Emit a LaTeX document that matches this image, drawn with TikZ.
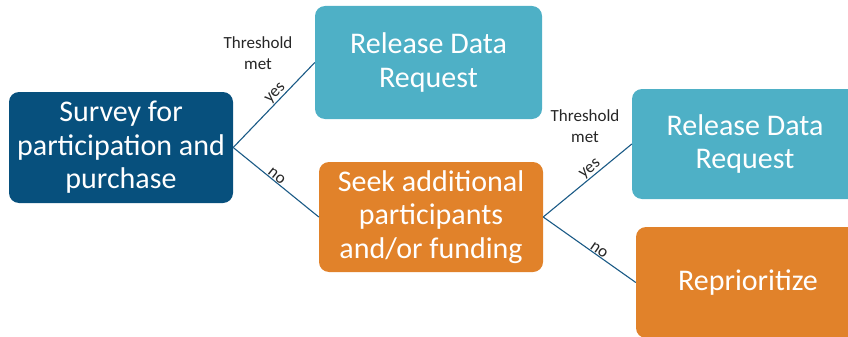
\documentclass[tikz,border=0pt]{standalone}
\usepackage{fontspec}
\setmainfont{Carlito}
\definecolor{navy}{HTML}{07507D}
\definecolor{teal}{HTML}{4EB0C6}
\definecolor{orng}{HTML}{E1822A}
\definecolor{linec}{HTML}{1A5A86}
\definecolor{txt}{HTML}{262626}
\tikzset{
  box/.style={rectangle, rounded corners=10pt, text=white, align=center,
    font=\fontsize{30}{33.5}\selectfont, inner sep=0pt},
  conn/.style={draw=linec, line width=1.1pt},
  lbl/.style={font=\fontsize{17}{21.5}\selectfont, text=txt, inner sep=0.5pt},
}
\begin{document}
\begin{tikzpicture}[x=1pt, y=-1pt]
\useasboundingbox (0,0) rectangle (848,337);
\begin{scope}
\clip (0,0) rectangle (848,337);
\node[box, fill=navy, minimum width=224pt, minimum height=111pt] (b1) at (121,147.5) {Survey for\\participation and\\purchase};
\node[box, fill=teal, minimum width=227pt, minimum height=113pt] (b2) at (428.5,62.5) {Release Data\\Request};
\node[box, fill=orng, minimum width=224pt, minimum height=110pt] (b3) at (431,217) {Seek additional\\participants\\and/or funding};
\node[box, fill=teal, minimum width=226pt, minimum height=110pt] (b4) at (745,144) {Release Data\\Request};
\node[box, fill=orng, minimum width=224pt, minimum height=111pt] (b5) at (748,282.5) {Reprioritize};
\end{scope}
\draw[conn] (b1.east) -- node[lbl, sloped, above, pos=0.58] (y1) {yes} (b2.west);
\draw[conn] (b1.east) -- node[lbl, sloped, above, pos=0.47] (n1) {no} (b3.west);
\draw[conn] (b3.east) -- node[lbl, sloped, above, pos=0.58] (y2) {yes} (b4.west);
\draw[conn] (b3.east) -- node[lbl, sloped, above, pos=0.57] (n2) {no} (b5.west);
\node[lbl, align=center] (t1) at (258,53) {Threshold\\met};
\node[lbl, align=center] (t2) at (585,126) {Threshold\\met};
\end{tikzpicture}
\end{document}
